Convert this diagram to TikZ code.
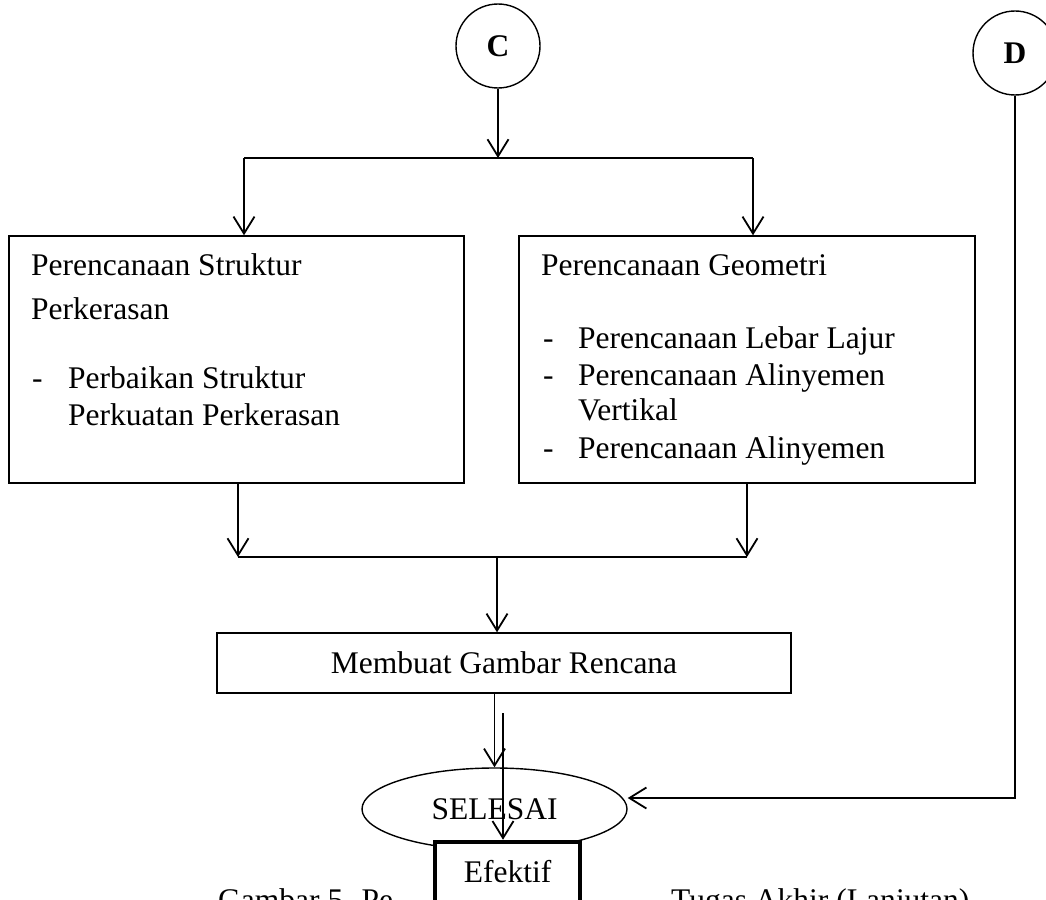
\documentclass[tikz,border=0pt]{standalone}
\usepackage{fontspec}
\setmainfont{Liberation Serif}
\usetikzlibrary{arrows.meta,shapes.geometric}
\begin{document}
\begin{tikzpicture}[x=1pt,y=-1pt,
  every node/.style={font=\fontsize{31.5}{37}\selectfont},
  box/.style={draw, rectangle, line width=1.4pt, inner sep=0pt},
  line/.style={line width=1.8pt},
  arr/.style={line width=1.8pt, -{Straight Barb[length=17pt,width=21pt]}},
  lbl/.style={anchor=base west, inner sep=0pt},
  conn/.style={draw, circle, line width=1.4pt, minimum size=84pt, inner sep=0pt,
               font=\fontsize{31.5}{37}\selectfont\bfseries}]
\useasboundingbox (0,0) rectangle (1046,899);
\clip (0,0) rectangle (1046,899);

% connectors (off-page references)
\node[conn] (C) at (498,46) {C};
\node[conn] (D) at (1015,53) {D};

% two planning boxes
\node[box, minimum width=455pt, minimum height=247pt] (lbox) at (236.5,359.5) {};
\node[box, minimum width=456pt, minimum height=247pt] (rbox) at (747,359.5) {};

\node[lbl] (l1)  at (31,275) {Perencanaan Struktur};
\node[lbl] (l2)  at (31,319) {Perkerasan};
\node[lbl] (l3d) at (32,388) {-};
\node[lbl] (l3)  at (68,388) {Perbaikan Struktur};
\node[lbl] (l4)  at (68,425) {Perkuatan Perkerasan};

\node[lbl] (r1)  at (541,275) {Perencanaan Geometri};
\node[lbl] (r2d) at (543,348) {-};
\node[lbl] (r2)  at (578,348) {Perencanaan Lebar Lajur};
\node[lbl] (r3d) at (543,385) {-};
\node[lbl] (r3)  at (578,385) {Perencanaan Alinyemen};
\node[lbl] (r4)  at (578,420) {Vertikal};
\node[lbl] (r5d) at (543,458) {-};
\node[lbl] (r5)  at (578,458) {Perencanaan Alinyemen};

% drawing step and end
\node[box, minimum width=574pt, minimum height=60pt] (mgr) at (504,663) {Membuat Gambar Rencana};
\node[draw, ellipse, line width=1.4pt, minimum width=265pt, minimum height=82pt, inner sep=0pt] (end) at (494.5,809) {SELESAI};

% split and merge junctions
\coordinate (jt)  at (498,158);
\coordinate (jtl) at (244,158);
\coordinate (jtr) at (753,158);
\coordinate (jbl) at (238,557);
\coordinate (jbr) at (747,557);
\coordinate (jbm) at (497,557);
\coordinate (s2)  at (503,713);
\coordinate (dk)  at (1015,798);

\draw[arr] (C.south) -- (jt);
\draw[line] (jtl) -- (jtr);
\draw[arr] (jtl) -- (jtl |- lbox.north);
\draw[arr] (jtr) -- (jtr |- rbox.north);
\draw[arr] (lbox.south -| jbl) -- (jbl);
\draw[arr] (rbox.south -| jbr) -- (jbr);
\draw[line] (jbl) -- (jbr);
\draw[arr] (jbm) -- (jbm |- mgr.north);
\draw[arr] (mgr.south -| end.north) -- (end.north);
\draw[arr] (D.south) -- (dk) -- (dk -| end.east);

% caption
\node[lbl] (cap1) at (218,910) {Gambar 5. Pe};
\node[lbl] (cap2) at (671,910) {Tugas Akhir (Lanjutan)};

% overlapping result box
\node[draw, fill=white, line width=4.5pt, minimum width=145pt, minimum height=110pt, inner sep=0pt] (eff) at (507.5,897) {};
\node[lbl, anchor=base] (efft) at (507.5,882) {Efektif};
\draw[arr] (s2) -- (s2 |- eff.north);
\end{tikzpicture}
\end{document}
